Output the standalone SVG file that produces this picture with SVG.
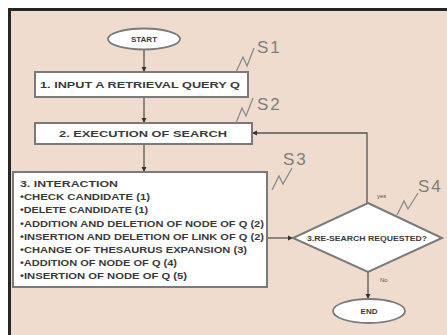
<svg xmlns="http://www.w3.org/2000/svg" width="447" height="335" viewBox="0 0 447 335">
<defs>
<marker id="ah" viewBox="0 0 6 6" refX="6" refY="3" markerWidth="4" markerHeight="4" orient="auto">
<path d="M0,0 L6,3 L0,6 z" fill="#333"/>
</marker>
<style>
.box{fill:#fff;stroke:#7a7a7a;stroke-width:2}
.term{fill:#fff;stroke:#7a7a7a;stroke-width:1.8}
.t{font-family:"Liberation Sans",Arial,sans-serif;font-weight:bold;fill:#3a3a3a}
.lab{font-family:"Liberation Sans",Arial,sans-serif;fill:#7d7d7d;font-size:17px;letter-spacing:2px}
.sq{fill:none;stroke:#8a8a8a;stroke-width:1.3}
.ln{fill:none;stroke:#555;stroke-width:1.3}
.sm{font-family:"Liberation Sans",Arial,sans-serif;fill:#555;font-size:6px}
</style>
</defs>
<rect x="0" y="0" width="447" height="335" fill="#fff"/>
<rect x="9.5" y="9.5" width="450" height="340" fill="#efdcce" stroke="#262626" stroke-width="3"/>
<g id="connectors">
<line class="ln" x1="144" y1="50" x2="144" y2="72" marker-end="url(#ah)"/>
<line class="ln" x1="144" y1="97" x2="144" y2="123" marker-end="url(#ah)"/>
<line class="ln" x1="144" y1="144" x2="144" y2="172" marker-end="url(#ah)"/>
<line class="ln" x1="267" y1="238" x2="293" y2="238" marker-end="url(#ah)"/>
<polyline class="ln" points="367,203 367,133 252,133" marker-end="url(#ah)"/>
<line class="ln" x1="368" y1="272" x2="368" y2="299" marker-end="url(#ah)"/>
<text class="sm" x="377" y="198">yes</text>
<text class="sm" x="380" y="282">No</text>
</g>
<g id="start">
<ellipse class="term" cx="144" cy="39" rx="36" ry="10.5"/>
<text class="t" x="144" y="42" font-size="8" text-anchor="middle">START</text>
</g>
<g id="s1">
<rect class="box" x="35" y="72" width="213" height="25"/>
<text class="t" x="40" y="88" font-size="9.5" textLength="200" lengthAdjust="spacingAndGlyphs">1. INPUT A RETRIEVAL QUERY Q</text>
<polyline class="sq" points="236,72 243,57 247,66 254,48"/>
<text class="lab" x="257" y="53">S1</text>
</g>
<g id="s2">
<rect class="box" x="35" y="123" width="217" height="21"/>
<text class="t" x="143" y="137" font-size="9.5" text-anchor="middle" textLength="168" lengthAdjust="spacingAndGlyphs">2. EXECUTION OF SEARCH</text>
<polyline class="sq" points="236,123 242,108 246,116 253,98"/>
<text class="lab" x="257" y="110">S2</text>
</g>
<g id="s3">
<rect class="box" x="13" y="172" width="254" height="115"/>
<g class="t" font-size="9">
<text x="20" y="187" textLength="98" lengthAdjust="spacingAndGlyphs">3. INTERACTION</text>
<text x="20" y="200.2" textLength="130" lengthAdjust="spacingAndGlyphs">•CHECK CANDIDATE (1)</text>
<text x="20" y="213.4" textLength="128" lengthAdjust="spacingAndGlyphs">•DELETE CANDIDATE (1)</text>
<text x="20" y="226.6" textLength="244" lengthAdjust="spacingAndGlyphs">•ADDITION AND DELETION OF NODE OF Q (2)</text>
<text x="20" y="239.8" textLength="244" lengthAdjust="spacingAndGlyphs">•INSERTION AND DELETION OF LINK OF Q (2)</text>
<text x="20" y="253" textLength="227" lengthAdjust="spacingAndGlyphs">•CHANGE OF THESAURUS EXPANSION (3)</text>
<text x="20" y="266.2" textLength="157" lengthAdjust="spacingAndGlyphs">•ADDITION OF NODE OF Q (4)</text>
<text x="20" y="279.4" textLength="167" lengthAdjust="spacingAndGlyphs">•INSERTION OF NODE OF Q (5)</text>
</g>
<polyline class="sq" points="272,190 279,176 283,184 292,168"/>
<text class="lab" x="283" y="165">S3</text>
</g>
<g id="s4">
<polygon class="box" points="368,203 442,238 368,272 293,238"/>
<text class="t" x="367" y="240.5" font-size="7" text-anchor="middle" textLength="120" lengthAdjust="spacingAndGlyphs">3.RE-SEARCH REQUESTED?</text>
<polyline class="sq" points="397,215 404,201 408,209 418,193"/>
<text class="lab" x="418" y="192">S4</text>
</g>
<g id="end">
<ellipse class="term" cx="369" cy="311" rx="36" ry="12"/>
<text class="t" x="369" y="314" font-size="8" text-anchor="middle">END</text>
</g>
</svg>
